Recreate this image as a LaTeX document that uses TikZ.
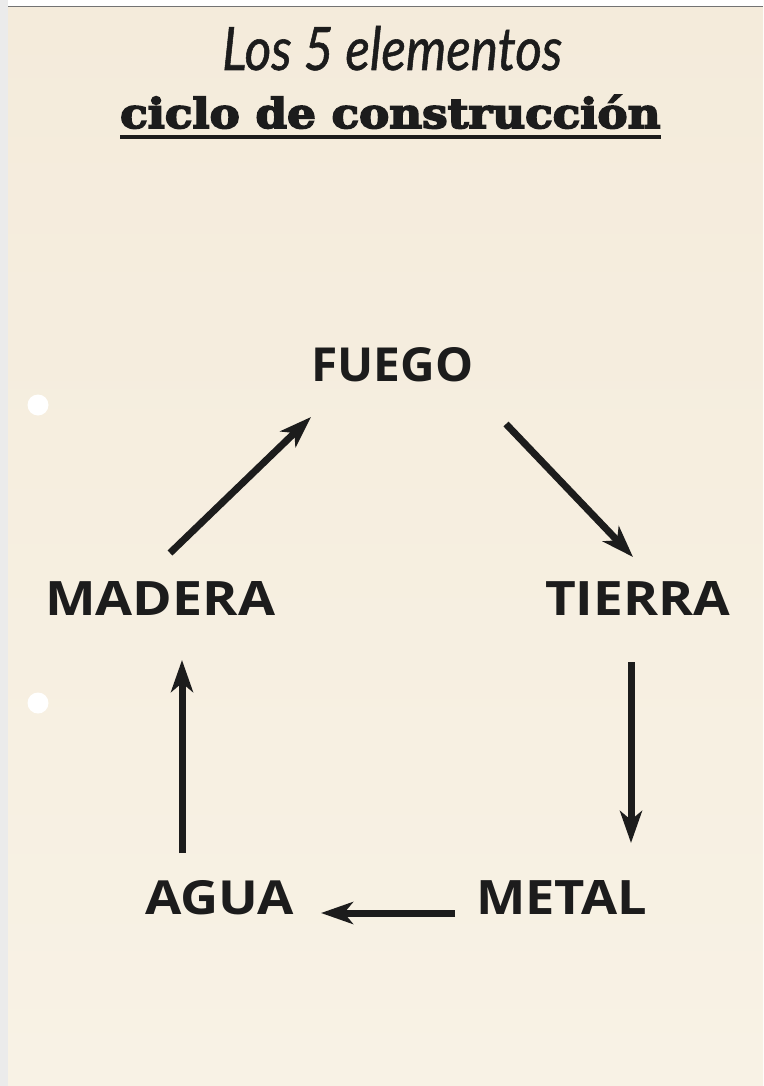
\documentclass[tikz,border=0pt]{standalone}
\usepackage{fontspec}
\usepackage{graphicx}
\usetikzlibrary{arrows.meta}
\newfontfamily\lblfont{Open Sans}
\newfontfamily\titlefont{DejaVu Serif}[FakeBold=4]
\newfontfamily\handfont{Lato}[FakeBold=1]
\definecolor{ink}{RGB}{28,28,28}
\definecolor{papertop}{RGB}{244,235,219}
\definecolor{paperbot}{RGB}{248,242,229}
\newcommand\lblbox[2]{\resizebox{#1}{34pt}{\lblfont\bfseries #2}}
\begin{document}
\begin{tikzpicture}[x=1pt,y=-1pt,
  lbl/.style={inner sep=0pt,anchor=base west,text=ink},
  arr/.style={draw=ink,line width=7pt,-{Stealth[length=32pt,width=22pt,inset=9pt]}}]
\useasboundingbox (0,0) rectangle (763,1086);
% paper
\shade[top color=papertop,bottom color=paperbot] (0,0) rectangle (763,1086);
\fill[white] (8,0) rectangle (763,5.6);
\fill[black!55] (8,5.6) rectangle (763,7);
\fill[black!8] (0,0) rectangle (8,1086);
\fill[white] (38,405) circle[radius=10.5];
\fill[white] (38,703) circle[radius=10.5];
% titles
\node[lbl] (title1) at (222,70) {\resizebox{340pt}{44pt}{\handfont\itshape Los 5 elementos}};
\node[lbl] (title2) at (120,128) {\resizebox{540pt}{33pt}{\titlefont\bfseries ciclo de construcción}};
\draw[ink,line width=4pt] ([yshift=-9pt]title2.base west) -- ([yshift=-9pt]title2.base east);
% labels
\node[lbl] (fuego)  at (311,381) {\lblbox{162pt}{FUEGO}};
\node[lbl] (madera) at (45,615)  {\lblbox{230pt}{MADERA}};
\node[lbl] (tierra) at (545,615) {\lblbox{185pt}{TIERRA}};
\node[lbl] (agua)   at (145,914) {\lblbox{149pt}{AGUA}};
\node[lbl] (metal)  at (476,914) {\lblbox{171pt}{METAL}};
% arrow ends
\coordinate (maderaOut) at (170,553);
\coordinate (fuegoIn)   at (311,417);
\coordinate (fuegoOut)  at (506,424);
\coordinate (tierraIn)  at (633,557);
\coordinate (tierraOut) at (631,662);
\coordinate (metalIn)   at (631,843);
\coordinate (metalOut)  at (455,913);
\coordinate (aguaIn)    at (321,913);
\coordinate (aguaOut)   at (182,853);
\coordinate (maderaIn)  at (182,660);
% arrows
\draw[arr] (maderaOut) -- (fuegoIn);
\draw[arr] (fuegoOut) -- (tierraIn);
\draw[arr] (tierraOut) -- (metalIn);
\draw[arr] (metalOut) -- (aguaIn);
\draw[arr] (aguaOut) -- (maderaIn);
\end{tikzpicture}
\end{document}
